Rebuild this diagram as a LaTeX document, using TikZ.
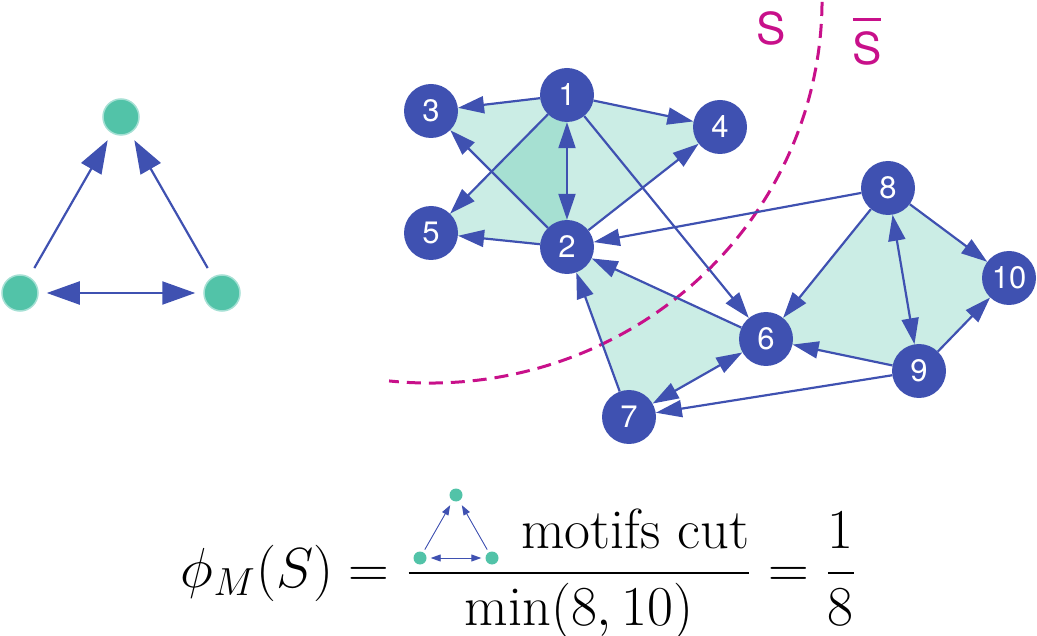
\documentclass[tikz,border=0pt]{standalone}
\usepackage{fontspec}
\usepackage{amsmath}
\usetikzlibrary{arrows.meta,backgrounds}
\newfontfamily\helv{TeX Gyre Heros}
\definecolor{nodeblue}{RGB}{63,81,177}
\definecolor{motifgreen}{RGB}{82,195,168}
\definecolor{motifrim}{RGB}{165,224,212}
\definecolor{cutpink}{RGB}{200,16,138}
\newcommand{\setbar}{\ooalign{\hfil S\hfil\cr\hfil\rule[1.0em]{0.64em}{0.07em}\hfil\cr}}
\tikzset{
  bigtip/.tip={Triangle[length=26pt, width=17pt]},
  midtip/.tip={Triangle[length=33pt, width=23pt]},
  smalltip/.tip={Triangle[length=10pt, width=7pt]},
}

\begin{document}
\begin{tikzpicture}[x=1pt, y=-1pt,
    vertex/.style={circle, fill=nodeblue, text=white, minimum size=54pt, inner sep=0pt,
      font=\helv\fontsize{31}{31}\selectfont},
    link/.style={nodeblue, line width=2.2pt, -bigtip},
    twoway/.style={nodeblue, line width=2.2pt, bigtip-bigtip},
    motiffill/.style={fill=motifgreen, fill opacity=0.3},
    dot/.style={circle, fill=motifgreen, draw=motifrim, line width=1.5pt, minimum size=36pt, inner sep=0pt},
    dotlink/.style={nodeblue, line width=2.2pt, -midtip, shorten <=10pt, shorten >=8pt},
    dottwoway/.style={nodeblue, line width=2.2pt, midtip-midtip, shorten <=8pt, shorten >=8pt},
    minidot/.style={circle, fill=motifgreen, minimum size=13pt, inner sep=0pt},
    minilink/.style={nodeblue, line width=0.9pt, -smalltip, shorten <=3pt, shorten >=5pt},
    minitwoway/.style={nodeblue, line width=0.9pt, smalltip-smalltip, shorten <=4pt, shorten >=4pt},
    cutline/.style={cutpink, line width=3pt, dash pattern=on 14pt off 8pt},
    cutlabel/.style={cutpink, inner sep=0pt, font=\helv\fontsize{44}{44}\selectfont}]
    \useasboundingbox (0,0) rectangle (1037,636);

    \node[dot] (top) at (121,117) {};
    \node[dot] (left) at (20,293) {};
    \node[dot] (right) at (222,293) {};
    \draw[dotlink] (left) -- (top);
    \draw[dotlink] (right) -- (top);
    \draw[dottwoway] (left) -- (right);

    \node[vertex] (n1) at (567,95) {1};
    \node[vertex] (n2) at (567,247) {2};
    \node[vertex] (n3) at (431,111) {3};
    \node[vertex] (n4) at (720,127) {4};
    \node[vertex] (n5) at (431,233) {5};
    \node[vertex] (n6) at (766,339) {6};
    \node[vertex] (n7) at (629,417) {7};
    \node[vertex] (n8) at (888,188) {8};
    \node[vertex] (n9) at (919,371) {9};
    \node[vertex] (n10) at (1009,278) {10};

    \begin{scope}[on background layer]
    \foreach \a/\b/\c in {1/2/3, 1/2/4, 1/2/5, 2/6/7, 6/8/9, 8/9/10}
      \fill[motiffill] (n\a.center) -- (n\b.center) -- (n\c.center) -- cycle;
    \draw[cutline] (821.5,-20) arc[start angle=-3, end angle=96, x radius=392, y radius=383];
    \end{scope}

    \foreach \a/\b in {1/3, 1/4, 1/5, 1/6, 2/3, 2/4, 2/5, 8/2, 6/2, 7/2, 8/6, 8/10, 9/10, 9/6, 9/7}
      \draw[link] (n\a) -- (n\b);
    \foreach \a/\b in {1/2, 6/7, 8/9}
      \draw[twoway] (n\a) -- (n\b);

    \node[cutlabel, anchor=base] (s) at (771,45) {S};
    \node[cutlabel, anchor=base] (sbar) at (867,65) {\setbar};

    \node[font=\huge, scale=2.72, anchor=base] (phi) at (519,587)
      {$\displaystyle \phi_M(S) = \frac{\hspace{2.0em}\text{motifs cut}}{\min(8,10)} = \frac{1}{8}$};
    \node[minidot] (mtop) at (456,495) {};
    \node[minidot] (mleft) at (420,558) {};
    \node[minidot] (mright) at (492,558) {};
    \draw[minilink] (mleft) -- (mtop);
    \draw[minilink] (mright) -- (mtop);
    \draw[minitwoway] (mleft) -- (mright);
\end{tikzpicture}
\end{document}
